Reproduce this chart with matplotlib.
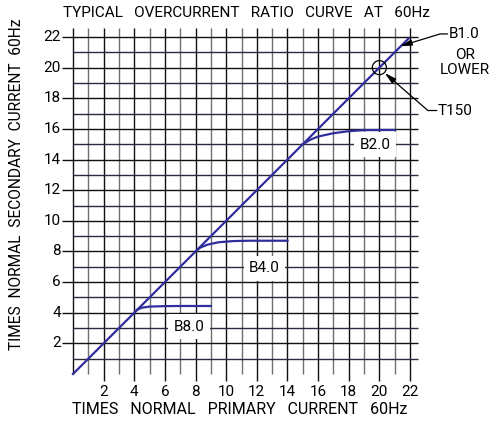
import numpy as np
import matplotlib
matplotlib.use('Agg')
import matplotlib.pyplot as plt

# ratio curves (times normal primary vs secondary current)
diag_x = [0, 21.9]
diag_y = [0, 21.9]

b8_x = [4, 4.2, 4.5, 5.0, 6.0, 7.0, 9.0]
b8_y = [4, 4.2, 4.33, 4.4, 4.43, 4.44, 4.44]

b4_x = [8, 8.3, 8.8, 9.5, 10.5, 11.5, 14.0]
b4_y = [8, 8.25, 8.45, 8.6, 8.68, 8.7, 8.7]

b2_x = [15, 15.5, 16, 17, 18, 19, 21]
b2_y = [15, 15.3, 15.5, 15.72, 15.85, 15.92, 15.93]

xticks = list(range(2, 23, 2))
yticks = list(range(2, 23, 2))

curve_col = '#2e2e9c'
fs = 11
plt.rcParams['font.family'] = ['Roboto', 'DejaVu Sans']

fig = plt.figure(figsize=(4.91, 4.26), dpi=100)
ax = fig.add_axes([73/491, 52/426, 337/491, 337/426])
ax.set_xlim(0, 22)
ax.set_ylim(0, 22)
for s in ax.spines.values():
    s.set_visible(False)
ax.set_xticks([])
ax.set_yticks([])

# grid
for i in range(0, 23):
    col = '#111111' if i % 2 == 0 else '#707070'
    y0 = -0.45 if (i % 2 == 0 and i > 0) else 0
    ax.vlines(i, y0, 22.6, colors=col, lw=1.0, clip_on=False, zorder=1)
for j in range(1, 23):
    col = '#111111' if j % 2 == 0 else '#2a2a3c'
    x0 = -0.7 if j % 2 == 0 else 0
    ax.hlines(j, x0, 22.5, colors=col, lw=1.0, clip_on=False, zorder=1)

for v in xticks:
    ax.text(v, -0.75, str(v), ha='center', va='top', fontsize=fs)
for v in yticks:
    ax.text(-0.8, v, str(v), ha='right', va='center', fontsize=fs)

ax.plot(diag_x, diag_y, color=curve_col, lw=1.6, zorder=3, clip_on=False)
ax.plot(b8_x, b8_y, color=curve_col, lw=1.6, zorder=3)
ax.plot(b4_x, b4_y, color=curve_col, lw=1.6, zorder=3)
ax.plot(b2_x, b2_y, color=curve_col, lw=1.6, zorder=3)

box = dict(facecolor='white', edgecolor='none', pad=4)
ax.text(7.6, 3.1, 'B8.0', ha='center', va='center', fontsize=fs, bbox=box, zorder=4)
ax.text(12.5, 6.9, 'B4.0', ha='center', va='center', fontsize=fs, bbox=box, zorder=4)
ax.text(19.7, 14.95, 'B2.0', ha='center', va='center', fontsize=fs, bbox=box, zorder=4)

# T150 marker circle
circ = plt.Circle((20, 20), 0.46, fill=False, color='black', lw=0.9, zorder=4)
ax.add_patch(circ)

# leaders
arrow = '-|>,head_length=0.7,head_width=0.18'
ax.annotate('', xy=(21.35, 21.4), xytext=(24.45, 22.2), annotation_clip=False,
            arrowprops=dict(arrowstyle=arrow, color='black', lw=0.9,
                            connectionstyle='angle,angleA=0,angleB=17,rad=0',
                            shrinkA=0, shrinkB=0))
ax.text(24.5, 22.2, 'B1.0', ha='left', va='center', fontsize=fs)
ax.text(25.6, 20.85, 'OR', ha='center', va='center', fontsize=fs)
ax.text(25.6, 19.85, 'LOWER', ha='center', va='center', fontsize=fs)

ax.annotate('', xy=(20.35, 19.65), xytext=(23.75, 17.2), annotation_clip=False,
            arrowprops=dict(arrowstyle=arrow, color='black', lw=0.9,
                            connectionstyle='angle,angleA=0,angleB=-41,rad=0',
                            shrinkA=0, shrinkB=0))
ax.text(23.8, 17.2, 'T150', ha='left', va='center', fontsize=fs)

fig.text(246/491, 1 - 13/426, 'TYPICAL   OVERCURRENT   RATIO   CURVE   AT   60Hz',
         ha='center', va='center', fontsize=fs)
fig.text(240/491, 1 - 410/426, 'TIMES   NORMAL   PRIMARY   CURRENT   60Hz',
         ha='center', va='center', fontsize=11.5)
fig.text(17/491, 1 - 184/426, 'TIMES  NORMAL  SECONDARY  CURRENT  60Hz',
         ha='center', va='center', rotation=90, fontsize=11.2)

fig.savefig('out.png', dpi=100)
